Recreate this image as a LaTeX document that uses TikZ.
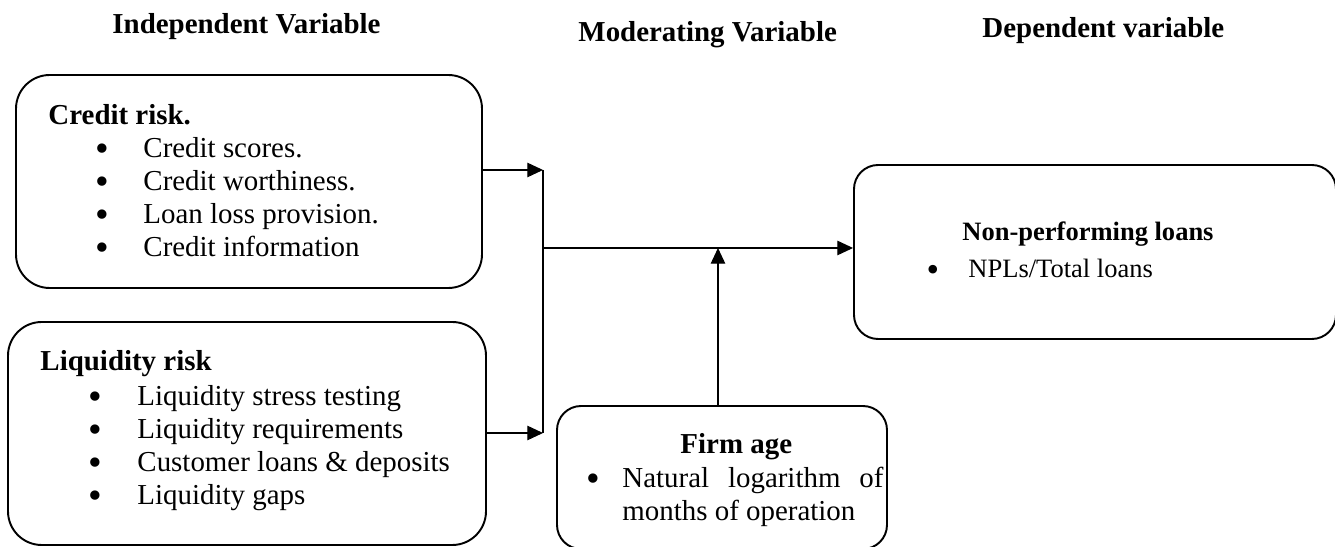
\documentclass[tikz,border=0pt]{standalone}
\usepackage{fontspec}
\setmainfont{Liberation Serif}
\usetikzlibrary{arrows.meta,fit}

\begin{document}
\begin{tikzpicture}[x=0.415pt,y=-0.415pt,
  every node/.style={font=\fontsize{12}{14}\selectfont, inner sep=0pt},
  box/.style={draw, line width=0.8pt, rounded corners=14pt, inner sep=0pt},
  smallbox/.style={box, rounded corners=10pt},
  txt/.style={anchor=base west},
  head/.style={anchor=base west, font=\fontsize{12}{14}\selectfont\bfseries},
  dot/.style={anchor=base, font=\fontsize{12}{14}\selectfont},
  link/.style={line width=0.45pt, -{Triangle[length=6.5pt,width=6pt]}}]
\useasboundingbox (0,0) rectangle (1335,547);
\newcommand{\bul}{\smash{\raisebox{-1.3pt}{\scalebox{1.35}{\textbullet}}}}

% column headings
\node[head] (hind) at (112,34) {Independent Variable};
\node[head] (hmod) at (578,42) {Moderating Variable};
\node[head] (hdep) at (982,38) {Dependent variable};

% boxes
\node[box, fit={(16,75) (482,288)}] (credit) {};
\node[box, fit={(8,322) (486,545)}] (liquidity) {};
\node[smallbox, fit={(557,406) (887,549)}] (firm) {};
\node[smallbox, fit={(854,165) (1336,339)}] (npl) {};

% credit risk
\node[head] (ctitle) at (48,125) {Credit risk.};
\node[dot] (cb1) at (102,158) {\bul};
\node[txt] (c1) at (143,158) {Credit scores.};
\node[dot] (cb2) at (102,191) {\bul};
\node[txt] (c2) at (143,191) {Credit worthiness.};
\node[dot] (cb3) at (102,224) {\bul};
\node[txt] (c3) at (143,224) {Loan loss provision.};
\node[dot] (cb4) at (102,257) {\bul};
\node[txt] (c4) at (143,257) {Credit information};

% liquidity risk
\node[head] (ltitle) at (40,371) {Liquidity risk};
\node[dot] (lb1) at (95,406) {\bul};
\node[txt] (l1) at (137,406) {Liquidity stress testing};
\node[dot] (lb2) at (95,439) {\bul};
\node[txt] (l2) at (137,439) {Liquidity requirements};
\node[dot] (lb3) at (95,472) {\bul};
\node[txt] (l3) at (137,472) {Customer loans \& deposits};
\node[dot] (lb4) at (95,505) {\bul};
\node[txt] (l4) at (137,505) {Liquidity gaps};

% firm age
\node[head] (ftitle) at (680,454) {Firm age};
\node[dot] (fb1) at (593,488) {\bul};
\node[txt] (f1) at (622,488) {\makebox[108.3pt][s]{Natural logarithm of}};
\node[txt] (f2) at (622,521) {months of operation};

% non-performing loans
\node[head, font=\fontsize{11}{13}\selectfont\bfseries] (ntitle) at (962,241) {Non-performing loans};
\node[dot, font=\fontsize{11}{13}\selectfont] (nb1) at (933,278) {\bul};
\node[txt, font=\fontsize{11}{13}\selectfont] (n1) at (968,278) {NPLs/Total loans};

% connectors
\coordinate (jtop) at (543,170);
\coordinate (jmid) at (543,248);
\coordinate (jbot) at (543,433);
\draw[link] (credit.east |- jtop) -- (jtop);
\draw[link] (liquidity.east |- jbot) -- (jbot);
\draw[line width=0.45pt] (jtop) -- (jbot);
\draw[link] (jmid) -- (jmid -| npl.west);
\draw[link] (firm.north -| 718,0) -- (718,248);
\end{tikzpicture}
\end{document}
